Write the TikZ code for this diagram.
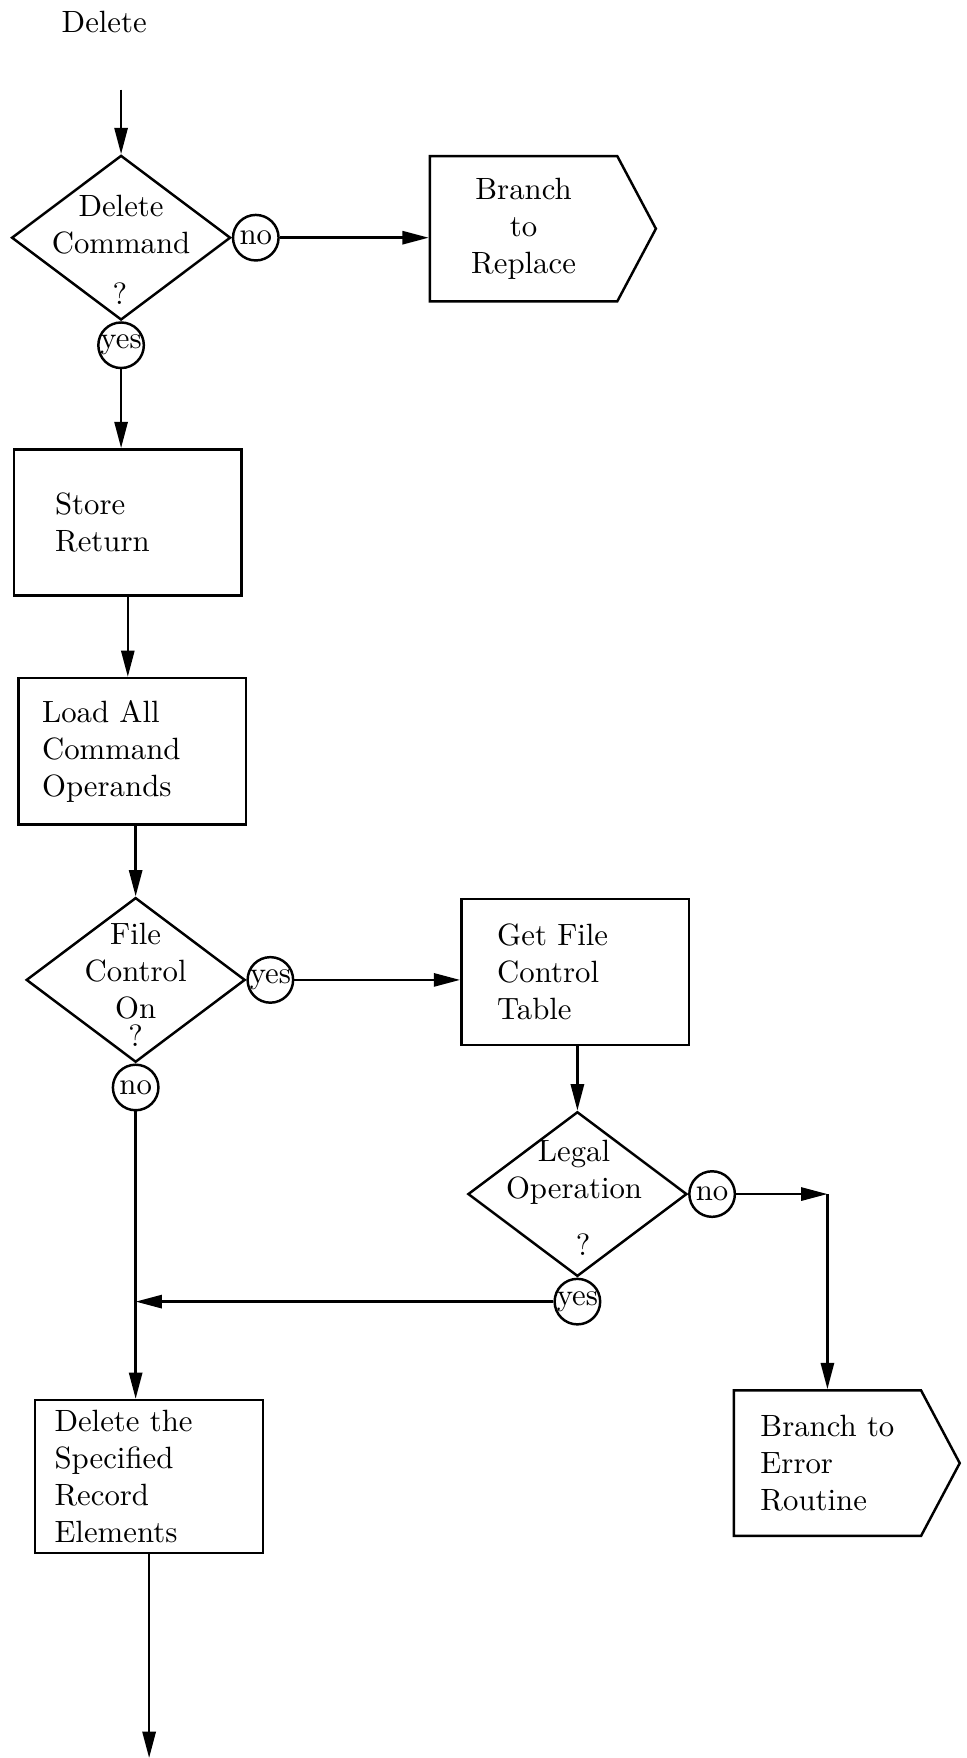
\documentclass[tikz,border=0pt]{standalone}
\usepackage{tikz}
\usetikzlibrary{positioning, shapes.geometric, shapes.symbols, arrows.meta}

\begin{document}
\begin{tikzpicture}[
        x=0.0128cm, y=-0.0128cm,
        every node/.style={align=center},
        decision/.style={diamond, draw, thick, minimum width=2.5cm, minimum height=1.88cm, inner sep=0pt},
        process/.style={rectangle, draw, thick, minimum width=2.6cm, minimum height=1.67cm, align=left},
        offpage/.style={signal, signal to=east, signal pointer angle=124, draw, thick, minimum width=2.58cm, minimum height=1.66cm},
        conn/.style={circle, draw, thick, minimum size=0.52cm, inner sep=0pt},
        qmark/.style={inner sep=0pt},
        arrow/.style={-{Triangle[length=3mm, width=1.5mm]}, thick},
        line/.style={thick}
    ]
    \useasboundingbox (0,0) rectangle (862,1568);

    % Entry
    \node (title) at (93,20) {Delete};
    \coordinate (start) at (108,80);
    \node[decision] (delcmd) at (108,212) {};
    \node (delcmdtxt) at (108,200) {Delete\\Command};
    \node[qmark] (delcmdq) at (107,262) {?};
    \node[conn, right=0pt of delcmd] (no1) {\makebox[0pt]{no}};
    \node[conn, below=0pt of delcmd] (yes1) {\makebox[0pt]{yes}};
    \node[offpage, align=center] (replace) at (467,204) {Branch\\to\\Replace};

    % Main column
    \node[process, text width=1.66cm, inner xsep=0.47cm] (store) at (114,466) {Store\\Return};
    \node[process, text width=2.06cm, inner xsep=0.27cm] (load) at (118,670) {Load All\\Command\\Operands};
    \node[decision] (filectl) at (121,874) {};
    \node (filectltxt) at (121,866) {File\\Control\\On};
    \node[qmark] (filectlq) at (121,924) {?};
    \node[conn, right=0pt of filectl] (yes2) {\makebox[0pt]{yes}};
    \node[conn, below=0pt of filectl] (no2) {\makebox[0pt]{no}};

    % File control branch
    \node[process, text width=1.78cm, inner xsep=0.41cm] (getfile) at (513,867) {Get File\\Control\\Table};
    \node[decision] (legal) at (515,1065) {};
    \node (legaltxt) at (512,1046) {Legal\\Operation};
    \node[qmark] (legalq) at (520,1110) {?};
    \node[conn, right=0pt of legal] (no3) {\makebox[0pt]{no}};
    \node[conn, below=0pt of legal] (yes3) {\makebox[0pt]{yes}};
    \node[offpage, align=left] (error) at (738,1305) {Branch to\\Error\\Routine};

    % Delete step
    \node[process, text width=2.16cm, inner xsep=0.22cm] (delrec) at (133,1317) {Delete the\\Specified\\Record\\Elements};
    \coordinate (exit) at (133,1568);

    % Arrows
    \draw[arrow] (start) -- (delcmd.north);
    \draw[arrow] (no1) -- (no1 -| replace.west);
    \draw[arrow] (yes1) -- (yes1 |- store.north);
    \draw[arrow] (store.south) -- (store.south |- load.north);
    \draw[arrow] (filectl.north |- load.south) -- (filectl.north);
    \draw[arrow] (yes2) -- (yes2 -| getfile.west);
    \draw[arrow] (no2) -- (no2 |- delrec.north);
    \draw[arrow] (legal.north |- getfile.south) -- (legal.north);
    \coordinate (corner) at (no3 -| error.north);
    \draw[arrow] (no3) -- (corner);
    \draw[arrow] (corner) -- (error.north);
    \draw[arrow] (yes3) -- (yes3 -| no2);
    \draw[arrow] (delrec) -- (exit);

\end{tikzpicture}
\end{document}
